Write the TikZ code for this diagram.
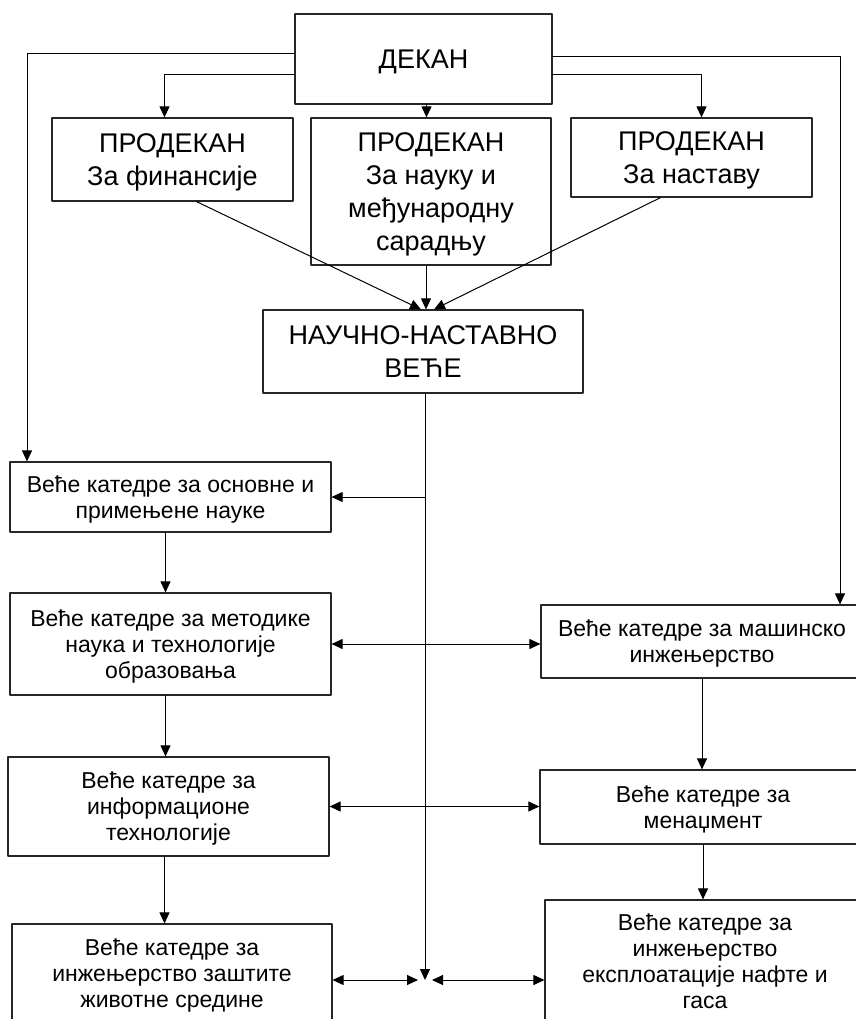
\documentclass[tikz,border=0pt]{standalone}
\usepackage{fontspec}
\setmainfont{Liberation Sans}
\usetikzlibrary{arrows.meta}

\begin{document}
\begin{tikzpicture}[line cap=round,line join=round,x=1pt,y=-1pt,
    box/.style={draw=black!85,line width=1.2pt,align=center,inner sep=0pt,text depth=-4pt},
    bigbox/.style={box,font=\fontsize{27}{33}\selectfont},
    smallbox/.style={box,font=\fontsize{23}{26}\selectfont},
    arr/.style={-{Triangle[length=11pt,width=10pt]},line width=1pt},
    dblarr/.style={{Triangle[length=11pt,width=10pt]}-{Triangle[length=11pt,width=10pt]},line width=1pt}]
    \useasboundingbox (0,0) rectangle (855,1019);
    \fill[white] (0,0) rectangle (855,1019);
    % upper part
    \node[bigbox,minimum width=257pt,minimum height=90pt] (dean) at (423.5,59) {ДЕКАН};
    \node[bigbox,minimum width=241pt,minimum height=83pt] (pfin) at (172.5,159.5) {ПРОДЕКАН\\За финансије};
    \node[bigbox,minimum width=240pt,minimum height=147pt] (psci) at (431,191.5) {ПРОДЕКАН\\За науку и\\међународну\\сарадњу};
    \node[bigbox,minimum width=241pt,minimum height=79pt] (pteach) at (691.5,157.5) {ПРОДЕКАН\\За наставу};
    \node[bigbox,minimum width=320pt,minimum height=83pt] (council) at (423,351.5) {НАУЧНО-НАСТАВНО\\ВЕЋЕ};
    % left column
    \node[smallbox,minimum width=321pt,minimum height=70pt] (basic) at (170.5,497) {Веће катедре за основне и\\примењене науке};
    \node[smallbox,minimum width=321pt,minimum height=102pt] (method) at (170.5,644) {Веће катедре за методике\\наука и технологије\\образовања};
    \node[smallbox,minimum width=321pt,minimum height=99pt] (info) at (168.5,806.5) {Веће катедре за\\информационе\\технологије};
    \node[smallbox,minimum width=320pt,minimum height=98pt] (env) at (172,973) {Веће катедре за\\инжењерство заштите\\животне средине};
    % right column
    \node[smallbox,minimum width=322pt,minimum height=73pt] (mech) at (702,641.5) {Веће катедре за машинско\\инжењерство};
    \node[smallbox,minimum width=326pt,minimum height=74pt] (mgmt) at (703,807) {Веће катедре за\\менаџмент};
    \node[smallbox,minimum width=320pt,minimum height=122pt] (oil) at (705,961) {Веће катедре за\\инжењерство\\експлоатације нафте и\\гаса};
    \coordinate (lcol) at (27,0);
    \coordinate (rcol) at (840,0);
    \coordinate (hub) at (425,980);
    % connectors
    \draw[arr] ([yshift=5pt]dean.west) -| (lcol |- basic.north);
    \draw[arr] ([yshift=2pt]dean.east) -| (rcol |- mech.north);
    \draw[arr] ([yshift=-16pt]dean.west) -| ([xshift=-8pt]pfin.north);
    \draw[arr] ([yshift=-16pt]dean.east) -| ([xshift=10pt]pteach.north);
    \draw[arr] ([xshift=3pt]dean.south) -- ([xshift=3pt]dean.south |- psci.north);
    \draw[arr] ([xshift=24pt]pfin.south) -- ([xshift=-2pt]council.north);
    \draw[arr] ([xshift=-5pt]psci.south) -- ([xshift=-5pt]psci.south |- council.north);
    \draw[arr] ([xshift=-31pt]pteach.south) -- ([xshift=11pt]council.north);
    \draw[arr] ([xshift=2pt]council.south) -- (hub);
    \draw[arr] (hub |- basic.east) -- (basic.east);
    \draw[arr] ([xshift=-5pt]basic.south) -- ([xshift=-5pt]basic.south |- method.north);
    \draw[arr] ([xshift=-5pt]method.south) -- ([xshift=-5pt]method.south |- info.north);
    \draw[arr] ([xshift=-4pt]info.south) -- ([xshift=-4pt]info.south |- env.north);
    \draw[arr] (mech.south) -- (mech.south |- mgmt.north);
    \draw[arr] (mgmt.south) -- (mgmt.south |- oil.north);
    \draw[dblarr] (method.east) -- (method.east -| mech.west);
    \draw[dblarr] (info.east) -- (info.east -| mgmt.west);
    \draw[dblarr,shorten >=7pt] ([yshift=-7pt]env.east) -- ([yshift=-7pt]env.east -| hub);
    \draw[dblarr,shorten <=7pt] (hub) -- (hub -| oil.west);
\end{tikzpicture}
\end{document}
